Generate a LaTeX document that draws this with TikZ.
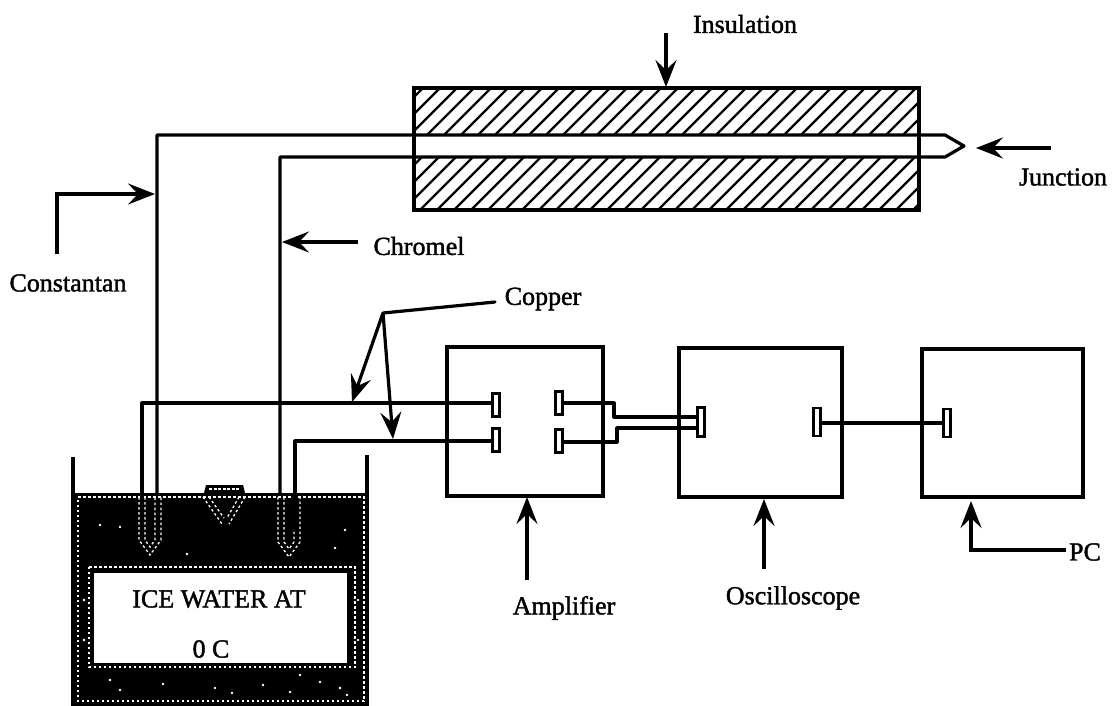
\documentclass[tikz,border=0pt]{standalone}
\usepackage{fontspec}
\setmainfont{Liberation Serif}
\newfontfamily\labfont[FakeBold=1.5]{Liberation Serif}
\usetikzlibrary{arrows.meta}
\tikzset{
  wire/.style={line width=3.2pt,line cap=round,line join=round},
  hatchline/.style={line width=2.4pt},
  dev/.style={draw,line width=3.6pt,outer sep=0pt,inner sep=0pt,anchor=north west},
  term/.style={draw,fill=white,line width=2.8pt,outer sep=0pt,inner sep=0pt,minimum width=7pt,minimum height=23pt},
  pointer/.style={line width=3.2pt,-{Stealth[length=27pt,width=21pt,inset=10pt]}},
  leader/.style={line width=3.2pt,line cap=round},
  lab/.style={inner sep=0pt,font=\labfont\fontsize{26}{30}\selectfont},
  speck/.style={white,line width=1.3pt,dash pattern=on 2.5pt off 2.5pt},
}
\begin{document}
\begin{tikzpicture}[x=1pt,y=-1pt]
\useasboundingbox (0,0) rectangle (1115,705);
\fill[white] (0,0) rectangle (1115,705);

% insulation
\begin{scope}
  \clip (414,88) rectangle (919,135) (414,157) rectangle (919,210);
  \foreach \k in {124,141,...,780}{
    \draw[hatchline] (\k+290,80) -- (\k+130,240);
  }
\end{scope}
\node[dev,minimum width=505pt,minimum height=122pt] (ins) at (414,88) {};

% junction wires
\coordinate (cTop) at (157,135);
\coordinate (chTop) at (280,157);
\coordinate (tipA) at (945,135);
\coordinate (tip) at (964,146);
\coordinate (tipB) at (945,157);
\draw[wire] (157,540) -- (cTop) -- (tipA) -- (tip) -- (tipB) -- (chTop) -- (280,540);

% tank
\fill[black] (75,493) rectangle (367,705);
\draw[line width=3.4pt] (73,457) -- (73,705) -- (367,705) -- (367,455);
\fill[white] (94,573) rectangle (347,663);
\draw[speck] (78,497) -- (364,497) -- (364,701) -- (78,701) -- cycle;
\draw[speck] (89,567) -- (355,567) -- (355,667) -- (89,667) -- cycle;

% tubes in water
\draw[speck] (139,497) -- (139,540) -- (150,555) -- (161,540) -- (161,497);
\draw[speck] (145,497) -- (145,540) -- (150,547) -- (155,540) -- (155,497);
\draw[speck] (278,497) -- (278,542) -- (289,557) -- (300,542) -- (300,497);
\draw[speck] (284,497) -- (284,542) -- (289,549) -- (294,542) -- (294,497);

% funnel
\fill[black] (204,493) -- (206,485) -- (243,485) -- (245,493) -- cycle;
\draw[white,line width=1.4pt,dash pattern=on 3pt off 1.5pt] (209,489) -- (240,489);
\draw[speck] (203,497) -- (222,524) (245,497) -- (229,524) (209,497) -- (224,518) (239,497) -- (227,518) (213,497) -- (235,497);

% scattered specks
\foreach \a/\b in {100/525,120/527,187/554,215/688,263/685,290/692,340/688,110/680,320/682,345/530,335/548,120/690,163/684,347/695,84/600,84/640,358/600,358/640,232/693,300/675}{
  \fill[white] (\a,\b) circle (1.3pt);
}

% devices
\node[dev,minimum width=156pt,minimum height=149pt] (amp) at (447,347) {};
\node[dev,minimum width=163pt,minimum height=149pt] (osc) at (679,348) {};
\node[dev,minimum width=161pt,minimum height=148pt] (pc) at (922,349) {};

% terminals
\node[term] (ai1) at (496,405) {};
\node[term] (ai2) at (496,440) {};
\node[term] (ao1) at (559,403) {};
\node[term] (ao2) at (559,441) {};
\node[term,minimum height=29pt] (oi) at (701,422) {};
\node[term,minimum height=28pt] (oo) at (817,422) {};
\node[term,minimum height=28pt] (pi) at (947,423) {};

% copper
\coordinate (cu1) at (142,403);
\coordinate (cu2) at (295,441);
\draw[wire] (142,530) -- (cu1) -- (ai1.west |- cu1);
\draw[wire] (295,530) -- (cu2) -- (ai2.west |- cu2);
\coordinate (a1) at (614,403);
\coordinate (a2) at (614,417);
\coordinate (b1) at (617,442);
\coordinate (b2) at (617,428);
\draw[wire] (ao1.east) -- (a1) -- (a2) -- (oi.west |- a2);
\draw[wire] (ao2.east |- b1) -- (b1) -- (b2) -- (oi.west |- b2);
\draw[wire] (oo.east |- pi) -- (pi.west);

% labels
\node[lab] (tIns) at (745,24) {Insulation};
\node[lab] (tJun) at (1063,177) {Junction};
\node[lab] (tCon) at (68,283) {Constantan};
\node[lab] (tChr) at (419,246) {Chromel};
\node[lab] (tCop) at (543,299) {Copper};
\node[lab] (tAmp) at (564,608) {Amplifier};
\node[lab] (tOsc) at (793,598) {Oscilloscope};
\node[lab] (tPC) at (1085,552) {PC};
\node[lab] (tIce) at (219,599) {ICE WATER AT};
\node[lab] (tZero) at (211,649) {0 C};

% pointers
\coordinate (pIns) at (666,33);
\draw[pointer] (pIns) -- (666,87);
\coordinate (pJun) at (1051,148);
\draw[pointer] (pJun) -- (976,148);
\coordinate (pCon) at (57,254);
\coordinate (pCon2) at (57,194);
\draw[pointer] (pCon) -- (pCon2) -- (155,194);
\coordinate (pChr) at (358,242);
\draw[pointer] (pChr) -- (282,242);
\coordinate (pCop) at (495,302);
\coordinate (pCopJ) at (383,313);
\draw[leader] (pCop) -- (pCopJ);
\draw[pointer] (pCopJ) -- (352,402);
\draw[pointer] (pCopJ) -- (393,439);
\coordinate (pAmp) at (527,580);
\draw[pointer] (pAmp) -- (527,497);
\coordinate (pOsc) at (764,569);
\draw[pointer] (pOsc) -- (764,499);
\coordinate (pPC) at (1066,550);
\coordinate (pPC2) at (971,550);
\draw[pointer] (pPC) -- (pPC2) -- (971,501);
\end{tikzpicture}
\end{document}
